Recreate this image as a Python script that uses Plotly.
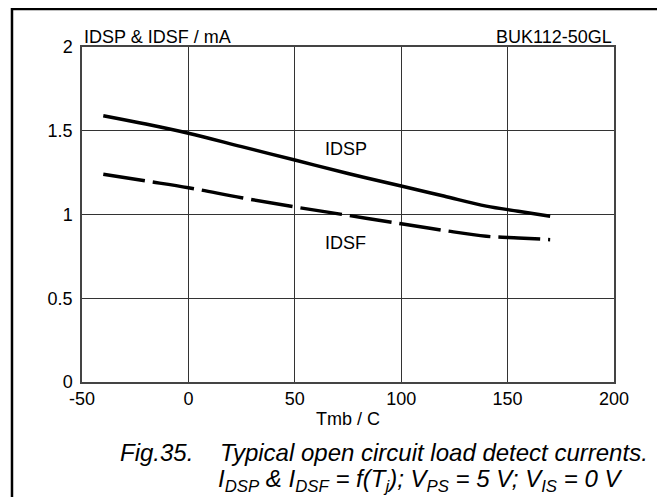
import plotly.graph_objects as go

# Data
tmb = [-40, -20, 0, 25, 50, 75, 100, 120, 140, 155, 170]
idsp = [1.59, 1.54, 1.485, 1.405, 1.325, 1.245, 1.17, 1.11, 1.05, 1.02, 0.99]
idsf = [1.24, 1.20, 1.16, 1.10, 1.045, 0.995, 0.945, 0.905, 0.87, 0.86, 0.85]
x_ticks = [-50, 0, 50, 100, 150, 200]
x_tick_text = ["-50", "0", "50", "100", "150", "200"]
y_ticks = [0, 0.5, 1, 1.5, 2]
y_tick_text = ["0", "0.5", "1", "1.5", "2"]

FONT = "Liberation Sans, Arial, sans-serif"
FS = 18

fig = go.Figure()
fig.add_trace(go.Scatter(x=tmb, y=idsp, mode="lines", line=dict(color="black", width=3.5, shape="spline"),
                         showlegend=False, hoverinfo="skip"))
fig.add_trace(go.Scatter(x=tmb, y=idsf, mode="lines", line=dict(color="black", width=3.5, shape="spline", dash="42px,8px"),
                         showlegend=False, hoverinfo="skip"))

# page body has an 8px margin, so the figure is drawn 8px in from the top-left corner
fig.update_layout(
    width=657, height=489,
    margin=dict(l=74, r=51, t=39, b=115),
    paper_bgcolor="white", plot_bgcolor="white",
    font=dict(family=FONT, color="black", size=FS),
    xaxis=dict(range=[-50, 200], tickvals=x_ticks, ticktext=x_tick_text, ticks="", showgrid=True,
               gridcolor="#333", gridwidth=1,
               showline=True, linecolor="#444", linewidth=1.5, mirror=True, zeroline=False,
               tickfont=dict(size=FS), title=dict(text="Tmb / C", font=dict(size=FS), standoff=4)),
    yaxis=dict(range=[0, 2], tickvals=y_ticks, ticktext=y_tick_text, ticks="", showgrid=True,
               gridcolor="#333", gridwidth=1,
               showline=True, linecolor="#444", linewidth=1.5, mirror=True, zeroline=False,
               tickfont=dict(size=FS), ticklabelstandoff=4),
)

ann = [
    dict(text="IDSP & IDSF / mA", x=0, y=1.03, xref="paper", yref="paper", xanchor="left", yanchor="middle",
         showarrow=False, font=dict(size=FS)),
    dict(text="BUK112-50GL", x=1, y=1.03, xref="paper", yref="paper", xanchor="right", yanchor="middle",
         showarrow=False, font=dict(size=FS)),
    dict(text="IDSP", x=74, y=1.389, xref="x", yref="y", showarrow=False, font=dict(size=FS)),
    dict(text="IDSF", x=74, y=0.832, xref="x", yref="y", showarrow=False, font=dict(size=FS)),
    dict(text="<i>Fig.35.\u00a0\u00a0\u00a0 Typical open circuit load detect currents.</i>", x=0.0677, y=-0.209,
         xref="paper", yref="paper", xanchor="left", yanchor="middle", showarrow=False, font=dict(size=24)),
    dict(text="<i>I<sub>DSP</sub> & I<sub>DSF</sub> = f(T<sub>j</sub>); V<sub>PS</sub> = 5 V; V<sub>IS</sub> = 0 V</i>",
         x=0.2519, y=-0.295, xref="paper", yref="paper", xanchor="left", yanchor="middle", showarrow=False,
         font=dict(size=24)),
]
fig.update_layout(annotations=ann)

fig.add_shape(type="rect", xref="paper", yref="paper", x0=-0.1316, x1=1.0883, y0=-0.36, y1=1.1134,
              line=dict(color="black", width=2.5), fillcolor="rgba(0,0,0,0)", layer="above")

fig.write_html("out.html")
